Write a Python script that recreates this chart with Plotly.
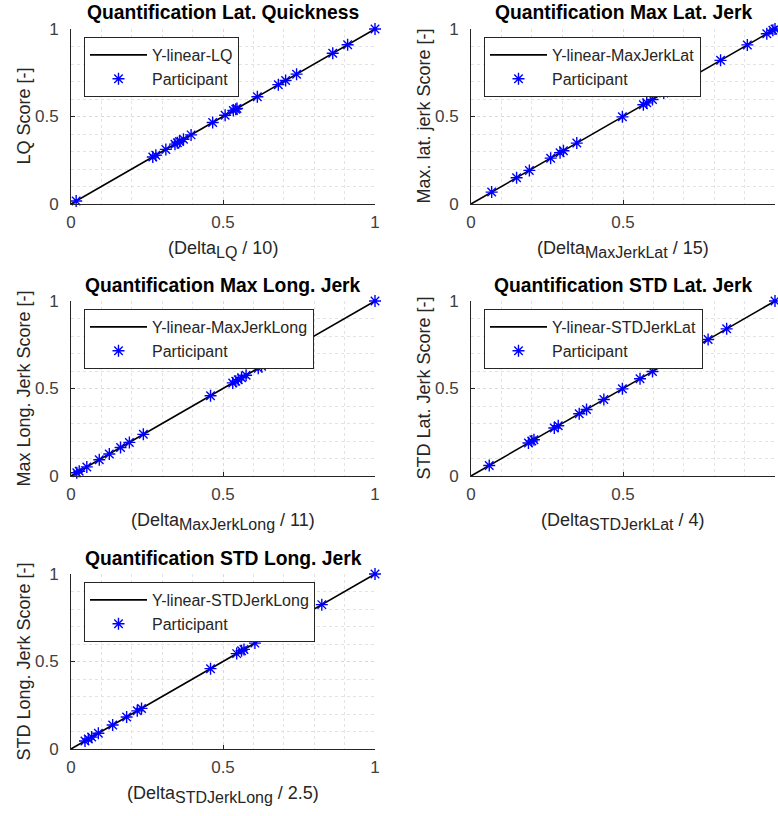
import plotly.graph_objects as go

W, H = 778, 816

titles = ["Quantification Lat. Quickness", "Quantification Max Lat. Jerk",
          "Quantification Max Long. Jerk", "Quantification STD Lat. Jerk",
          "Quantification STD Long. Jerk"]
ylabels = ["LQ Score [-]", "Max. lat. jerk Score [-]", "Max Long. Jerk Score [-]",
           "STD Lat. Jerk Score [-]", "STD Long. Jerk Score [-]"]
xlabel_main = ["(Delta", "(Delta", "(Delta", "(Delta", "(Delta"]
xlabel_sub = ["LQ", "MaxJerkLat", "MaxJerkLong", "STDJerkLat", "STDJerkLong"]
xlabel_tail = [" / 10)", " / 15)", " / 11)", " / 4)", " / 2.5)"]
line_names = ["Y-linear-LQ", "Y-linear-MaxJerkLat", "Y-linear-MaxJerkLong",
              "Y-linear-STDJerkLat", "Y-linear-STDJerkLong"]
tick_vals = [0, 0.5, 1]
tick_text = ["0", "0.5", "1"]

line_x = [0, 1]
line_y = [0, 1]

lq_delta = [0.017, 0.269, 0.279, 0.312, 0.342, 0.350, 0.357, 0.370, 0.395, 0.466,
            0.507, 0.534, 0.542, 0.546, 0.613, 0.682, 0.706, 0.742, 0.861, 0.910, 1.0]
lq_score = [0.017, 0.269, 0.279, 0.312, 0.342, 0.350, 0.357, 0.370, 0.395, 0.466,
            0.507, 0.534, 0.542, 0.546, 0.613, 0.682, 0.706, 0.742, 0.861, 0.910, 1.0]

mjlat_delta = [0.068, 0.150, 0.192, 0.262, 0.293, 0.304, 0.348, 0.498, 0.567, 0.578,
               0.597, 0.634, 0.821, 0.909, 0.973, 0.993, 1.0]
mjlat_score = [0.068, 0.150, 0.192, 0.262, 0.293, 0.304, 0.348, 0.498, 0.567, 0.578,
               0.597, 0.634, 0.821, 0.909, 0.973, 0.993, 1.0]

mjlong_delta = [0.019, 0.027, 0.052, 0.093, 0.126, 0.163, 0.192, 0.238, 0.459, 0.532,
                0.542, 0.550, 0.561, 0.576, 0.616, 0.627, 0.666, 1.0]
mjlong_score = [0.019, 0.027, 0.052, 0.093, 0.126, 0.163, 0.192, 0.238, 0.459, 0.532,
                0.542, 0.550, 0.561, 0.576, 0.616, 0.627, 0.666, 1.0]

sdlat_delta = [0.060, 0.189, 0.200, 0.207, 0.274, 0.287, 0.356, 0.380, 0.437, 0.498,
               0.556, 0.597, 0.780, 0.841, 1.0]
sdlat_score = [0.060, 0.189, 0.200, 0.207, 0.274, 0.287, 0.356, 0.380, 0.437, 0.498,
               0.556, 0.597, 0.780, 0.841, 1.0]

sdlong_delta = [0.046, 0.057, 0.068, 0.090, 0.137, 0.183, 0.218, 0.232, 0.459, 0.545,
                0.561, 0.569, 0.605, 0.660, 0.825, 1.0]
sdlong_score = [0.046, 0.057, 0.068, 0.090, 0.137, 0.183, 0.218, 0.232, 0.459, 0.545,
                0.561, 0.569, 0.605, 0.660, 0.825, 1.0]

deltas = [lq_delta, mjlat_delta, mjlong_delta, sdlat_delta, sdlong_delta]
scores = [lq_score, mjlat_score, mjlong_score, sdlat_score, sdlong_score]

# axes boxes in pixels: (left, right), (top, bottom)
cols = [(71, 375), (471, 775)]
rows = [(29, 204), (301, 476), (574, 749)]

FONT = "Liberation Sans, Arial, sans-serif"
AX = "#262626"

fig = go.Figure()
layout = dict(width=W, height=H,
              margin=dict(l=0, r=0, t=0, b=0, pad=0, autoexpand=False),
              paper_bgcolor="white", plot_bgcolor="white",
              font=dict(family=FONT, color=AX), showlegend=True)
annotations = []


def px2x(p):
    return p / W


def px2y(p):
    return 1 - p / H


for i in range(5):
    r, c = divmod(i, 2)
    L, R = cols[c]
    T, B = rows[r]
    n = "" if i == 0 else str(i + 1)
    xa, ya = "x" + n, "y" + n
    lg = "legend" if i == 0 else "legend" + str(i + 1)
    fig.add_trace(go.Scatter(x=line_x, y=line_y, mode="lines", name=line_names[i],
                             line=dict(color="black", width=1.6), xaxis=xa, yaxis=ya,
                             legend=lg, cliponaxis=False))
    fig.add_trace(go.Scatter(x=deltas[i], y=scores[i], mode="markers", name="Participant",
                             marker=dict(symbol="asterisk-open", size=10, color="#0000ff",
                                         line=dict(color="#0000ff", width=1.4)),
                             xaxis=xa, yaxis=ya, legend=lg, cliponaxis=False))
    axcommon = dict(range=[0, 1], tickvals=tick_vals, ticktext=tick_text,
                    showline=True, linecolor=AX, linewidth=1, mirror=False,
                    ticks="inside", ticklen=4, tickcolor=AX, zeroline=False,
                    showgrid=True, gridcolor="#d9d9d9", griddash="dot", gridwidth=1,
                    minor=dict(dtick=0.1, tick0=0, showgrid=True, gridcolor="#e3e3e3",
                               griddash="dot", gridwidth=1, ticks=""),
                    tickfont=dict(size=17, color="#404040", family=FONT),
                    automargin=False, fixedrange=True)
    layout["xaxis" + n] = dict(axcommon, domain=[px2x(L), px2x(R)], anchor=ya,
                               ticklabelstandoff=3)
    layout["yaxis" + n] = dict(axcommon, domain=[px2y(B), px2y(T)], anchor=xa,
                               ticklabelstandoff=8)
    layout[lg] = dict(x=px2x(L + 13), y=px2y(T + 8), xanchor="left", yanchor="top",
                      xref="paper", yref="paper", bgcolor="white", bordercolor="#262626",
                      borderwidth=1, font=dict(size=16, family=FONT, color="#262626"),
                      tracegroupgap=0, itemwidth=57)
    # title
    annotations.append(dict(text="<b>" + titles[i] + "</b>", x=px2x((L + R) / 2),
                            y=px2y(T - 16), xref="paper", yref="paper", showarrow=False,
                            xanchor="center", yanchor="middle",
                            font=dict(size=19.3, family=FONT, color="black")))
    # x label
    xl = (xlabel_main[i] + "<sub><span style='font-size:16px'>" + xlabel_sub[i]
          + "</span></sub>" + xlabel_tail[i])
    annotations.append(dict(text=xl, x=px2x((L + R) / 2), y=px2y(B + 45),
                            xref="paper", yref="paper", showarrow=False,
                            xanchor="center", yanchor="middle",
                            font=dict(size=18, family=FONT, color="#262626")))
    # y label
    annotations.append(dict(text=ylabels[i], x=px2x(L - 48), y=px2y((T + B) / 2),
                            xref="paper", yref="paper", showarrow=False, textangle=-90,
                            xanchor="center", yanchor="middle",
                            font=dict(size=18, family=FONT, color="#262626")))

layout["annotations"] = annotations
fig.update_layout(**layout)
fig.write_html("out.html")
